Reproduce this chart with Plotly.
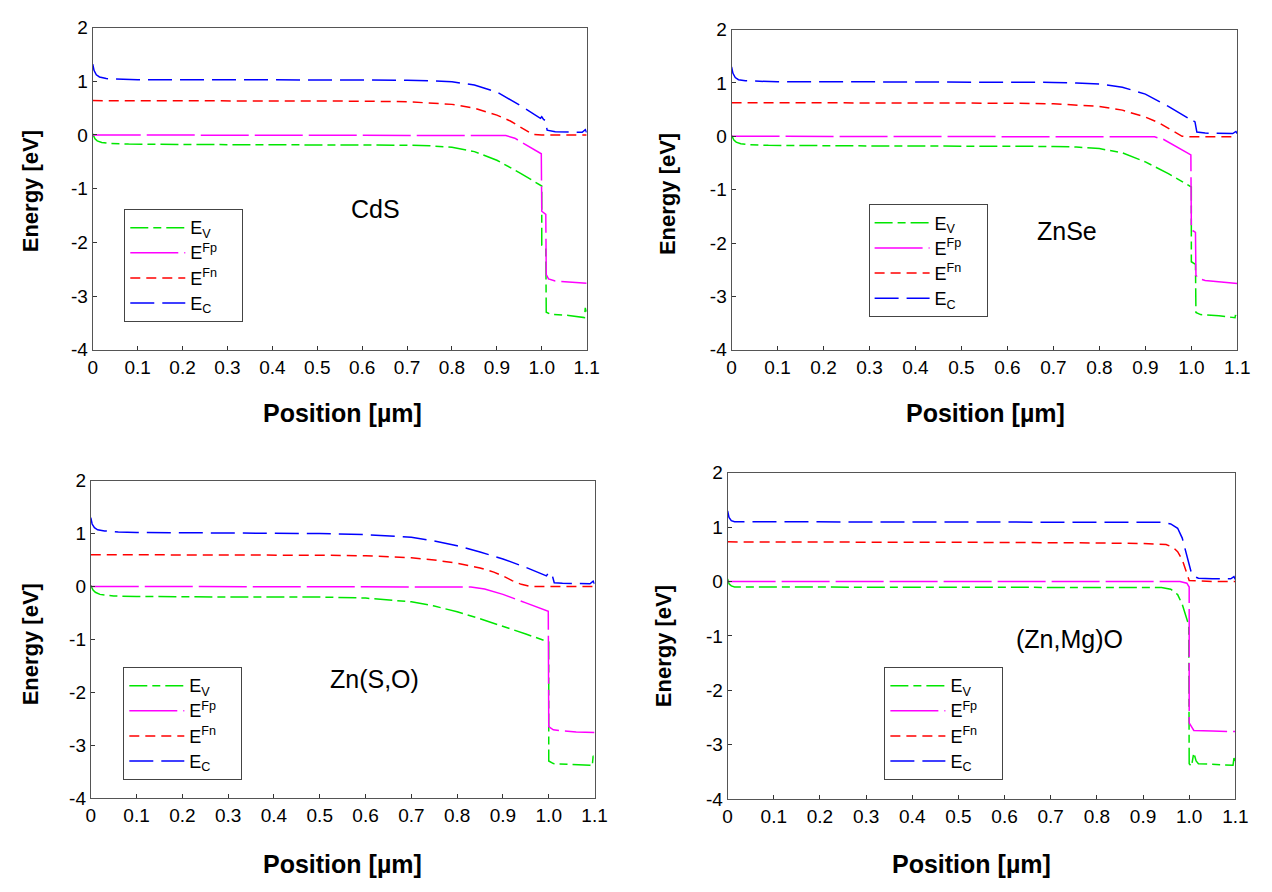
import plotly.graph_objects as go

# ---------------- data ----------------
x_tickvals = [0, 0.1, 0.2, 0.3, 0.4, 0.5, 0.6, 0.7, 0.8, 0.9, 1.0, 1.1]
x_ticktext = ["0", "0.1", "0.2", "0.3", "0.4", "0.5", "0.6", "0.7", "0.8", "0.9", "1.0", "1.1"]
y_tickvals = [-4, -3, -2, -1, 0, 1, 2]
y_ticktext = ["-4", "-3", "-2", "-1", "0", "1", "2"]

panel_names = ["CdS", "ZnSe", "Zn(S,O)", "(Zn,Mg)O"]
series_names = ["E<sub>V</sub>", "E<sup>Fp</sup>", "E<sup>Fn</sup>", "E<sub>C</sub>"]

# CdS
cds_ev_x = [0, 0.005, 0.01, 0.02, 0.04, 0.08, 0.3, 0.6, 0.7, 0.75, 0.8, 0.85, 0.9, 0.95, 0.99, 1.0, 1.0, 1.009, 1.01, 1.02, 1.06, 1.095, 1.097, 1.1]
cds_ev_y = [0.02, -0.07, -0.11, -0.14, -0.16, -0.17, -0.18, -0.18, -0.19, -0.2, -0.23, -0.31, -0.47, -0.7, -0.9, -0.95, -2.05, -2.1, -3.3, -3.34, -3.36, -3.4, -3.22, -3.3]
cds_efp_x = [0, 0.5, 0.9, 0.92, 0.94, 0.96, 0.98, 0.999, 1.0, 1.009, 1.01, 1.015, 1.03, 1.06, 1.1]
cds_efp_y = [0, 0, 0, -0.01, -0.06, -0.16, -0.27, -0.35, -1.42, -1.48, -2.6, -2.68, -2.72, -2.74, -2.76]
cds_efn_x = [0, 0.3, 0.6, 0.7, 0.75, 0.8, 0.85, 0.9, 0.93, 0.95, 0.97, 0.98, 1.0, 1.05, 1.1]
cds_efn_y = [0.64, 0.64, 0.63, 0.62, 0.6, 0.57, 0.5, 0.37, 0.26, 0.16, 0.05, 0.01, 0.0, 0.0, 0.0]
cds_ec_x = [0, 0.003, 0.008, 0.015, 0.03, 0.06, 0.1, 0.3, 0.5, 0.7, 0.75, 0.8, 0.85, 0.9, 0.95, 0.98, 0.997, 1.0, 1.004, 1.008, 1.012, 1.03, 1.06, 1.09, 1.097, 1.1]
cds_ec_y = [1.32, 1.2, 1.12, 1.08, 1.05, 1.04, 1.03, 1.03, 1.03, 1.02, 1.01, 0.99, 0.93, 0.8, 0.56, 0.4, 0.31, 0.34, 0.29, 0.27, 0.09, 0.06, 0.05, 0.05, 0.1, 0.05]

# ZnSe
znse_ev_x = [0, 0.005, 0.01, 0.02, 0.04, 0.08, 0.3, 0.6, 0.7, 0.75, 0.8, 0.85, 0.9, 0.95, 0.99, 1.0, 1.0, 1.009, 1.01, 1.02, 1.06, 1.095, 1.097, 1.1]
znse_ev_y = [0.02, -0.07, -0.11, -0.14, -0.16, -0.17, -0.18, -0.18, -0.19, -0.2, -0.23, -0.31, -0.48, -0.7, -0.9, -0.95, -2.35, -2.4, -3.3, -3.34, -3.36, -3.4, -3.3, -3.35]
znse_efp_x = [0, 0.5, 0.9, 0.92, 0.94, 0.96, 0.98, 0.999, 1.0, 1.009, 1.01, 1.015, 1.03, 1.06, 1.1]
znse_efp_y = [0, 0, 0, -0.01, -0.06, -0.16, -0.27, -0.35, -1.75, -1.8, -2.6, -2.66, -2.7, -2.73, -2.76]
znse_efn_x = [0, 0.3, 0.6, 0.7, 0.75, 0.8, 0.85, 0.9, 0.93, 0.95, 0.97, 0.98, 1.0, 1.05, 1.1]
znse_efn_y = [0.63, 0.63, 0.62, 0.61, 0.59, 0.56, 0.49, 0.36, 0.25, 0.15, 0.04, 0.0, -0.01, -0.01, -0.01]
znse_ec_x = [0, 0.003, 0.008, 0.015, 0.03, 0.06, 0.1, 0.3, 0.5, 0.7, 0.75, 0.8, 0.85, 0.9, 0.95, 0.98, 0.997, 1.0, 1.004, 1.008, 1.012, 1.03, 1.06, 1.09, 1.097, 1.1]
znse_ec_y = [1.3, 1.18, 1.1, 1.06, 1.04, 1.03, 1.02, 1.02, 1.02, 1.01, 1.0, 0.98, 0.92, 0.79, 0.56, 0.41, 0.32, 0.34, 0.29, 0.27, 0.08, 0.06, 0.05, 0.05, 0.09, 0.05]

# Zn(S,O)
zso_ev_x = [0, 0.005, 0.01, 0.02, 0.05, 0.1, 0.3, 0.5, 0.6, 0.7, 0.75, 0.8, 0.85, 0.9, 0.95, 1.0, 1.0, 1.01, 1.05, 1.09, 1.095, 1.097, 1.1]
zso_ev_y = [0.02, -0.07, -0.11, -0.15, -0.18, -0.19, -0.2, -0.2, -0.22, -0.29, -0.37, -0.48, -0.61, -0.75, -0.9, -1.05, -3.3, -3.35, -3.37, -3.38, -3.4, -3.2, -3.3]
zso_efp_x = [0, 0.5, 0.8, 0.83, 0.86, 0.9, 0.95, 0.999, 1.0, 1.01, 1.03, 1.06, 1.1]
zso_efp_y = [0, 0, 0, -0.01, -0.05, -0.15, -0.31, -0.47, -2.65, -2.71, -2.73, -2.75, -2.76]
zso_efn_x = [0, 0.3, 0.5, 0.6, 0.7, 0.75, 0.8, 0.85, 0.88, 0.9, 0.92, 0.94, 0.96, 1.0, 1.05, 1.1]
zso_efn_y = [0.6, 0.6, 0.59, 0.58, 0.54, 0.5, 0.44, 0.35, 0.27, 0.2, 0.11, 0.04, 0.0, 0.0, 0.0, 0.0]
zso_ec_x = [0, 0.003, 0.008, 0.015, 0.03, 0.06, 0.1, 0.3, 0.5, 0.6, 0.7, 0.75, 0.8, 0.85, 0.9, 0.95, 0.995, 1.0, 1.004, 1.008, 1.012, 1.03, 1.06, 1.09, 1.097, 1.1]
zso_ec_y = [1.3, 1.18, 1.11, 1.07, 1.05, 1.03, 1.02, 1.01, 1.0, 0.98, 0.93, 0.86, 0.77, 0.65, 0.52, 0.36, 0.2, 0.27, 0.25, 0.2, 0.07, 0.06, 0.05, 0.05, 0.1, 0.05]

# (Zn,Mg)O
zmo_ev_x = [0, 0.003, 0.008, 0.015, 0.03, 0.3, 0.6, 0.9, 0.94, 0.96, 0.975, 0.985, 0.993, 0.999, 1.0, 1.005, 1.01, 1.015, 1.02, 1.06, 1.09, 1.095, 1.097, 1.1]
zmo_ev_y = [0.05, -0.04, -0.08, -0.1, -0.1, -0.1, -0.1, -0.1, -0.11, -0.14, -0.24, -0.42, -0.62, -0.8, -3.35, -3.4, -3.15, -3.3, -3.35, -3.36, -3.37, -3.38, -3.25, -3.3]
zmo_efp_x = [0, 0.5, 0.98, 0.995, 1.0, 1.0, 1.01, 1.05, 1.1]
zmo_efp_y = [0, 0, 0, -0.03, -0.1, -2.6, -2.74, -2.75, -2.76]
zmo_efn_x = [0, 0.3, 0.6, 0.8, 0.9, 0.95, 0.965, 0.975, 0.985, 0.993, 1.0, 1.05, 1.1]
zmo_efn_y = [0.73, 0.73, 0.72, 0.71, 0.7, 0.68, 0.63, 0.55, 0.4, 0.2, 0.02, 0.0, 0.0]
zmo_ec_x = [0, 0.003, 0.008, 0.015, 0.03, 0.3, 0.6, 0.9, 0.94, 0.96, 0.975, 0.985, 0.993, 0.999, 1.002, 1.005, 1.01, 1.02, 1.05, 1.09, 1.097, 1.1]
zmo_ec_y = [1.3, 1.18, 1.12, 1.1, 1.1, 1.1, 1.1, 1.1, 1.09, 1.06, 0.98, 0.8, 0.55, 0.33, 0.28, 0.15, 0.1, 0.06, 0.05, 0.05, 0.09, 0.04]

panel_data = [
    [(cds_ev_x, cds_ev_y), (cds_efp_x, cds_efp_y), (cds_efn_x, cds_efn_y), (cds_ec_x, cds_ec_y)],
    [(znse_ev_x, znse_ev_y), (znse_efp_x, znse_efp_y), (znse_efn_x, znse_efn_y), (znse_ec_x, znse_ec_y)],
    [(zso_ev_x, zso_ev_y), (zso_efp_x, zso_efp_y), (zso_efn_x, zso_efn_y), (zso_ec_x, zso_ec_y)],
    [(zmo_ev_x, zmo_ev_y), (zmo_efp_x, zmo_efp_y), (zmo_efn_x, zmo_efn_y), (zmo_ec_x, zmo_ec_y)],
]
# label positions (data coords)
label_x = [0.63, 0.73, 0.62, 0.74]
label_y = [-1.37, -1.78, -1.75, -1.05]

# ---------------- style ----------------
W, H = 1272, 892
FONT = "Liberation Sans, Arial, sans-serif"
series_colors = ["#00e600", "#ff00ff", "#ff0000", "#0000ff"]
series_dash = ["18px,5px,8px,5px", "48px,6px", "10px,6px", "24px,8px"]
PAD = "\u00a0" * 4  # widens the legend box a little

# plot-area boxes in pixels: left, right, top, bottom
boxes = [(89, 590, 18, 348), (737, 1250, 20, 348), (87, 598, 482, 807), (733, 1248, 474, 808)]
legend_pos = [(121, 204), (876, 199), (120, 673), (892, 673)]
ytitle_pos = [(26, 186), (672, 188), (26, 650), (668, 652)]
xtitle_pos = [(342, 413), (995, 413), (342, 875), (980, 875)]


def px(x):
    return x / W


def py(y):
    return 1 - y / H


fig = go.Figure()
annotations = []
layout = dict(width=W, height=H, margin=dict(l=0, r=0, t=0, b=0),
              paper_bgcolor="white", plot_bgcolor="white",
              font=dict(family=FONT, color="black"))

for i in range(4):
    sfx = "" if i == 0 else str(i + 1)
    lg = "legend" if i == 0 else "legend" + str(i + 1)
    for j in range(4):
        xs, ys = panel_data[i][j]
        fig.add_trace(go.Scatter(
            x=xs, y=ys, mode="lines",
            name='<span style="font-size:18px">' + series_names[j] + PAD + "</span>",
            line=dict(color=series_colors[j], width=1.5, dash=series_dash[j]),
            xaxis="x" + sfx, yaxis="y" + sfx, legend=lg, showlegend=True))
    l, r, t, b = boxes[i]
    layout["xaxis" + sfx] = dict(
        domain=[px(l), px(r)], range=[0, 1.1], anchor="y" + sfx,
        tickvals=x_tickvals, ticktext=x_ticktext, ticks="inside", ticklen=4,
        tickcolor="#333", showline=True, linecolor="#555", linewidth=1, mirror=True,
        showgrid=False, zeroline=False, tickfont=dict(size=19, family=FONT, color="black"))
    layout["yaxis" + sfx] = dict(
        domain=[py(b), py(t)], range=[-4, 2], anchor="x" + sfx,
        tickvals=y_tickvals, ticktext=y_ticktext, ticks="inside", ticklen=4,
        tickcolor="#333", showline=True, linecolor="#555", linewidth=1, mirror=True,
        showgrid=False, zeroline=False, tickfont=dict(size=19, family=FONT, color="black"))
    lx, ly = legend_pos[i]
    layout[lg] = dict(x=px(lx), y=py(ly), xanchor="left", yanchor="top",
                      bgcolor="white", bordercolor="#444", borderwidth=1,
                      font=dict(size=17, family=FONT, color="black"),
                      itemwidth=55, tracegroupgap=0)
    annotations.append(dict(x=label_x[i], y=label_y[i], xref="x" + sfx, yref="y" + sfx,
                            text=panel_names[i], showarrow=False,
                            font=dict(size=25, family=FONT, color="black")))
    tx, ty = ytitle_pos[i]
    annotations.append(dict(x=px(tx), y=py(ty), xref="paper", yref="paper",
                            text="<b>Energy [eV]</b>", textangle=-90, showarrow=False,
                            xanchor="center", yanchor="middle",
                            font=dict(size=22, family=FONT, color="black")))
    tx, ty = xtitle_pos[i]
    annotations.append(dict(x=px(tx), y=py(ty), xref="paper", yref="paper",
                            text="<b>Position [\u00b5m]</b>", showarrow=False,
                            xanchor="center", yanchor="middle",
                            font=dict(size=25, family=FONT, color="black")))

layout["annotations"] = annotations
fig.update_layout(**layout)
fig.write_html("out.html")
